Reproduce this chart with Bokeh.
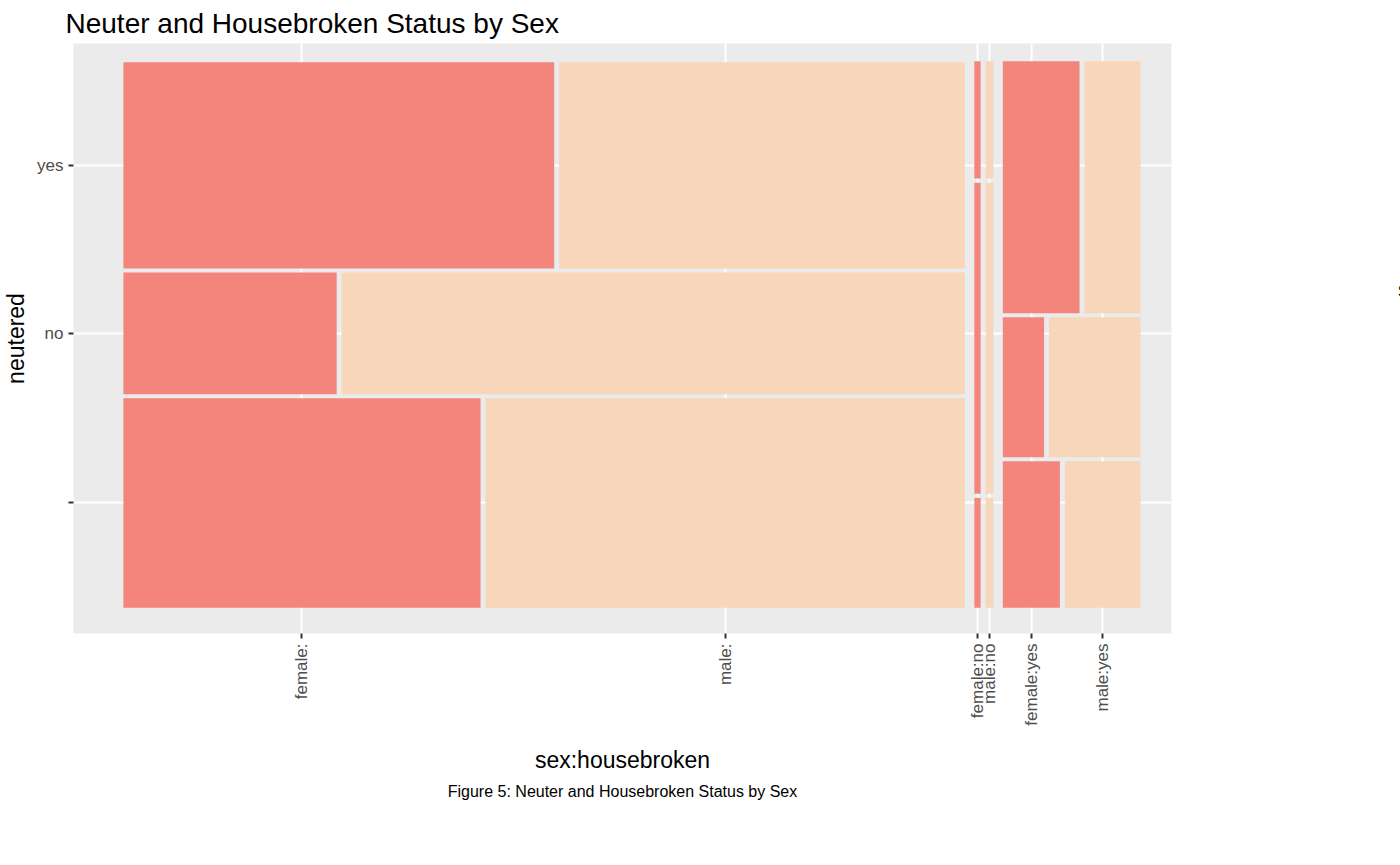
from bokeh.plotting import figure
from bokeh.models import FixedTicker, Legend, LegendItem, Title, Range1d
from bokeh.embed import file_html
from bokeh.resources import INLINE
from math import pi

# housebroken columns (left to right) and their widths (share of x)
housebroken = ["", "no", "yes"]
col_share = [0.843, 0.019, 0.138]
# neutered rows (bottom to top) within each column (share of y)
neutered = ["", "no", "yes"]
row_share = [[0.389, 0.226, 0.383],
             [0.204, 0.578, 0.218],
             [0.272, 0.260, 0.468]]
# female share within each cell
female_share = [[0.427, 0.255, 0.515],
                [0.45, 0.45, 0.45],
                [0.43, 0.311, 0.578]]
sexes = ["female", "male"]
colors = ["#F4857D", "#F8D6B9"]

gap_col, gap_row, gap_sex = 0.0095, 0.0075, 0.005

p = figure(frame_width=1098, frame_height=590, output_backend="svg", toolbar_location=None,
           x_range=Range1d(-0.05, 1.05), y_range=Range1d(-0.048, 1.048),
           min_border_left=10, min_border_top=10, min_border_bottom=10, min_border_right=0)

xticks, xlabels, yticks = [], {}, []
x0 = 0.0
renderers = {}
for ci, hb in enumerate(housebroken):
    w = col_share[ci]
    y0 = 0.0
    for ri, nt in enumerate(neutered):
        h = row_share[ci][ri]
        fw = female_share[ci][ri] * (w - gap_sex)
        edges = [(x0, x0 + fw), (x0 + fw + gap_sex, x0 + w)]
        for si, sx in enumerate(sexes):
            r = p.quad(left=edges[si][0], right=edges[si][1], bottom=y0, top=y0 + h,
                       fill_color=colors[si], line_color=None)
            renderers.setdefault(sx, r)
            if ri == 0:
                c = (edges[si][0] + edges[si][1]) / 2
                xticks.append(c)
                xlabels[c] = sx + ":" + hb
        if ci == 0:
            yticks.append(y0 + h / 2)
        y0 += h + gap_row
    x0 += w + gap_col

p.xaxis.ticker = FixedTicker(ticks=xticks)
p.xaxis.major_label_overrides = xlabels
p.yaxis.ticker = FixedTicker(ticks=yticks)
p.yaxis.major_label_overrides = {t: n for t, n in zip(yticks, neutered)}
p.xaxis.major_label_orientation = pi / 2
p.xaxis.axis_label = "sex:housebroken"
p.yaxis.axis_label = "neutered"
for ax in (p.xaxis, p.yaxis):
    ax.axis_line_color = None
    ax.minor_tick_line_color = None
    ax.major_tick_line_color = "#333333"
    ax.major_tick_line_width = 2
    ax.major_tick_in = 0
    ax.major_tick_out = 5
    ax.major_label_text_font = "Liberation Sans"
    ax.major_label_text_font_size = "17px"
    ax.major_label_text_color = "#4D4D4D"
    ax.axis_label_text_font = "Liberation Sans"
    ax.axis_label_text_font_size = "23px"
    ax.axis_label_text_font_style = "normal"
    ax.axis_label_text_color = "#000000"
p.xaxis.axis_label_standoff = 18
p.background_fill_color = "#EBEBEB"
p.grid.grid_line_color = "white"
p.grid.grid_line_width = 2
p.outline_line_color = None

p.title.text = "Neuter and Housebroken Status by Sex"
p.title.text_font = "Liberation Sans"
p.title.text_font_size = "28px"
p.title.text_font_style = "normal"
p.title.text_color = "#000000"
p.title.offset = -8

cap = Title(text="Figure 5: Neuter and Housebroken Status by Sex", align="center",
            text_font="Liberation Sans", text_font_size="16px", text_font_style="normal",
            text_color="#000000")
p.add_layout(cap, "below")

legend = Legend(items=[LegendItem(label=s, renderers=[renderers[s]]) for s in sexes],
                title="sex", title_text_font="Liberation Sans", title_text_font_size="22px",
                title_text_font_style="normal", title_text_color="#000000",
                label_text_font="Liberation Sans", label_text_font_size="17px",
                label_text_color="#000000",
                glyph_width=46, glyph_height=46, label_height=46, spacing=0,
                border_line_color=None, background_fill_color="white",
                margin=0, padding=34, location="center")
p.add_layout(legend, "right")

open("out.html", "w").write(file_html(p, INLINE))
